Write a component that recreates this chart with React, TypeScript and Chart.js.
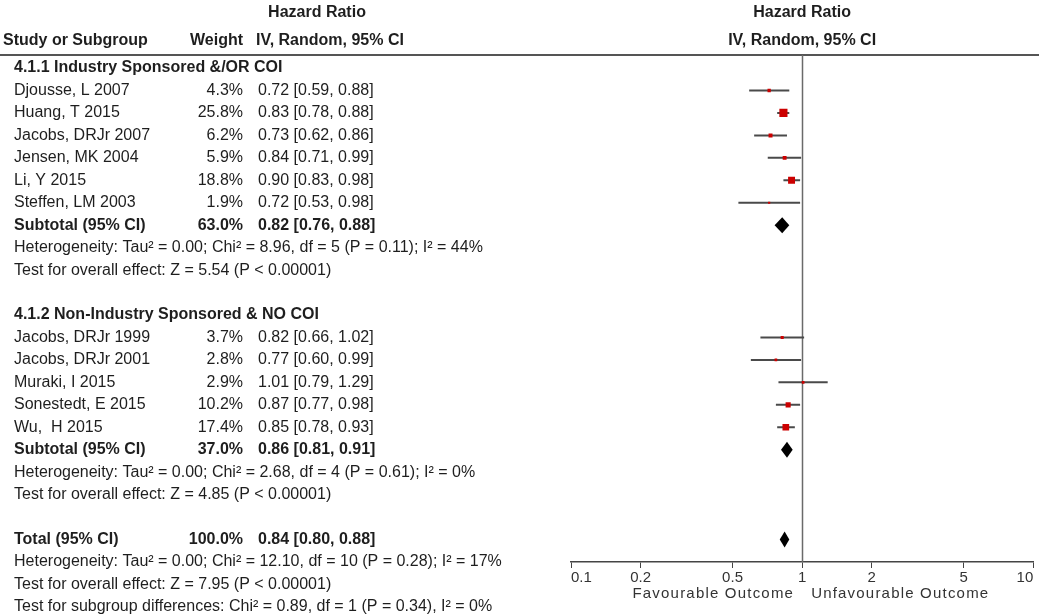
import React, { useEffect, useRef } from "react";
import { Chart, registerables } from "chart.js";

Chart.register(...registerables);

// ---------- data ----------
const GROUP1_TITLE = "4.1.1 Industry Sponsored &/OR COI";
const G1_STUDIES = ["Djousse, L 2007", "Huang, T 2015", "Jacobs, DRJr 2007", "Jensen, MK 2004", "Li, Y 2015", "Steffen, LM 2003"];
const G1_WEIGHT = [4.3, 25.8, 6.2, 5.9, 18.8, 1.9];
const G1_HR = [0.72, 0.83, 0.73, 0.84, 0.9, 0.72];
const G1_LO = [0.59, 0.78, 0.62, 0.71, 0.83, 0.53];
const G1_HI = [0.88, 0.88, 0.86, 0.99, 0.98, 0.98];
const G1_SUB = { weight: 63.0, hr: 0.82, lo: 0.76, hi: 0.88 };
const G1_NOTES = [
  "Heterogeneity: Tau\u00b2 = 0.00; Chi\u00b2 = 8.96, df = 5 (P = 0.11); I\u00b2 = 44%",
  "Test for overall effect: Z = 5.54 (P < 0.00001)",
];

const GROUP2_TITLE = "4.1.2 Non-Industry Sponsored & NO COI";
const G2_STUDIES = ["Jacobs, DRJr 1999", "Jacobs, DRJr 2001", "Muraki, I 2015", "Sonestedt, E 2015", "Wu,  H 2015"];
const G2_WEIGHT = [3.7, 2.8, 2.9, 10.2, 17.4];
const G2_HR = [0.82, 0.77, 1.01, 0.87, 0.85];
const G2_LO = [0.66, 0.6, 0.79, 0.77, 0.78];
const G2_HI = [1.02, 0.99, 1.29, 0.98, 0.93];
const G2_SUB = { weight: 37.0, hr: 0.86, lo: 0.81, hi: 0.91 };
const G2_NOTES = [
  "Heterogeneity: Tau\u00b2 = 0.00; Chi\u00b2 = 2.68, df = 4 (P = 0.61); I\u00b2 = 0%",
  "Test for overall effect: Z = 4.85 (P < 0.00001)",
];

const TOTAL = { weight: 100.0, hr: 0.84, lo: 0.8, hi: 0.88 };
const TOTAL_NOTES = [
  "Heterogeneity: Tau\u00b2 = 0.00; Chi\u00b2 = 12.10, df = 10 (P = 0.28); I\u00b2 = 17%",
  "Test for overall effect: Z = 7.95 (P < 0.00001)",
  "Test for subgroup differences: Chi\u00b2 = 0.89, df = 1 (P = 0.34), I\u00b2 = 0%",
];

const X_TICKS = [0.1, 0.2, 0.5, 1, 2, 5, 10];
const X_TICK_LABELS = ["0.1", "0.2", "0.5", "1", "2", "5", "10"];
const AXIS_LEFT_LABEL = "Favourable Outcome";
const AXIS_RIGHT_LABEL = "Unfavourable Outcome";

// ---------- row layout ----------
type Row =
  | { kind: "group"; text: string }
  | { kind: "study"; name: string; w: number; hr: number; lo: number; hi: number }
  | { kind: "sub"; name: string; w: number; hr: number; lo: number; hi: number }
  | { kind: "note"; text: string }
  | { kind: "blank" };

function buildRows(): Row[] {
  const rows: Row[] = [];
  rows.push({ kind: "group", text: GROUP1_TITLE });
  G1_STUDIES.forEach((n, i) => rows.push({ kind: "study", name: n, w: G1_WEIGHT[i], hr: G1_HR[i], lo: G1_LO[i], hi: G1_HI[i] }));
  rows.push({ kind: "sub", name: "Subtotal (95% CI)", w: G1_SUB.weight, hr: G1_SUB.hr, lo: G1_SUB.lo, hi: G1_SUB.hi });
  G1_NOTES.forEach((t) => rows.push({ kind: "note", text: t }));
  rows.push({ kind: "blank" });
  rows.push({ kind: "group", text: GROUP2_TITLE });
  G2_STUDIES.forEach((n, i) => rows.push({ kind: "study", name: n, w: G2_WEIGHT[i], hr: G2_HR[i], lo: G2_LO[i], hi: G2_HI[i] }));
  rows.push({ kind: "sub", name: "Subtotal (95% CI)", w: G2_SUB.weight, hr: G2_SUB.hr, lo: G2_SUB.lo, hi: G2_SUB.hi });
  G2_NOTES.forEach((t) => rows.push({ kind: "note", text: t }));
  rows.push({ kind: "blank" });
  rows.push({ kind: "sub", name: "Total (95% CI)", w: TOTAL.weight, hr: TOTAL.hr, lo: TOTAL.lo, hi: TOTAL.hi });
  TOTAL_NOTES.forEach((t) => rows.push({ kind: "note", text: t }));
  return rows;
}

const FONT = '"Liberation Sans", Arial, Helvetica, sans-serif';
const TEXT = "#1e1e1e";
const RED = "#cc0000";

const fmt = (v: number) => v.toFixed(2);

export default function App() {
  const ref = useRef<HTMLCanvasElement | null>(null);

  useEffect(() => {
    if (!ref.current) return;
    const rows = buildRows();

    const studyRows = rows
      .map((r, i) => ({ r, i }))
      .filter((o) => o.r.kind === "study") as { r: Extract<Row, { kind: "study" }>; i: number }[];
    const subRows = rows
      .map((r, i) => ({ r, i }))
      .filter((o) => o.r.kind === "sub") as { r: Extract<Row, { kind: "sub" }>; i: number }[];

    const ciDatasets = studyRows.map((o) => ({
      type: "scatter" as const,
      data: [
        { x: o.r.lo, y: o.i },
        { x: o.r.hi, y: o.i },
      ],
      showLine: true,
      borderColor: "#4a4a4a",
      borderWidth: 2,
      pointRadius: 0,
      order: 2,
    }));

    const squareDataset = {
      type: "scatter" as const,
      data: studyRows.map((o) => ({ x: o.r.hr, y: o.i })),
      pointStyle: "rect",
      pointRadius: studyRows.map((o) => Math.max(2.2, 1.6 * Math.sqrt(o.r.w)) / Math.SQRT2),
      backgroundColor: RED,
      borderWidth: 0,
      order: 1,
    };

    const forestPlugin = {
      id: "forest",
      beforeDraw(chart: any) {
        const ctx = chart.ctx;
        ctx.save();
        ctx.fillStyle = "#ffffff";
        ctx.fillRect(0, 0, chart.width, chart.height);
        ctx.restore();
      },
      beforeDatasetsDraw(chart: any) {
        const ctx = chart.ctx;
        const xs = chart.scales.x;
        const area = chart.chartArea;
        ctx.save();
        // header rule
        ctx.strokeStyle = "#555";
        ctx.lineWidth = 2;
        ctx.beginPath();
        ctx.moveTo(0, area.top);
        ctx.lineTo(chart.width, area.top);
        ctx.stroke();
        // line of no effect
        const x1 = Math.round(xs.getPixelForValue(1)) + 0.5;
        ctx.strokeStyle = "#6a6a6a";
        ctx.lineWidth = 1.5;
        ctx.beginPath();
        ctx.moveTo(x1, area.top);
        ctx.lineTo(x1, area.bottom);
        ctx.stroke();
        ctx.restore();
      },
      afterDatasetsDraw(chart: any) {
        const ctx = chart.ctx;
        const xs = chart.scales.x;
        const ys = chart.scales.y;
        ctx.save();
        // diamonds
        ctx.fillStyle = "#000";
        subRows.forEach((o) => {
          const y = ys.getPixelForValue(o.i);
          const xl = xs.getPixelForValue(o.r.lo);
          const xr = xs.getPixelForValue(o.r.hi);
          const xc = xs.getPixelForValue(o.r.hr);
          ctx.beginPath();
          ctx.moveTo(xl, y);
          ctx.lineTo(xc, y - 8);
          ctx.lineTo(xr, y);
          ctx.lineTo(xc, y + 8);
          ctx.closePath();
          ctx.fill();
        });

        // text table
        ctx.fillStyle = TEXT;
        ctx.textBaseline = "middle";
        const reg = `16px ${FONT}`;
        const bold = `bold 16px ${FONT}`;
        const put = (t: string, x: number, y: number, align: CanvasTextAlign, f: string, sp = 0) => {
          ctx.font = f;
          ctx.textAlign = align;
          (ctx as any).letterSpacing = sp + "px";
          ctx.fillText(t, x, y);
          (ctx as any).letterSpacing = "0px";
        };
        // headers
        put("Hazard Ratio", 317, 13, "center", bold);
        put("Study or Subgroup", 3, 41, "left", bold);
        put("Weight", 243, 41, "right", bold);
        put("IV, Random, 95% CI", 256, 41, "left", bold);
        const xc1 = xs.getPixelForValue(1);
        put("Hazard Ratio", xc1, 13, "center", bold);
        put("IV, Random, 95% CI", xc1, 41, "center", bold);

        rows.forEach((r, i) => {
          const y = ys.getPixelForValue(i);
          if (r.kind === "group") put(r.text, 14, y, "left", bold);
          else if (r.kind === "note") put(r.text, 14, y, "left", reg);
          else if (r.kind === "study" || r.kind === "sub") {
            const f = r.kind === "sub" ? bold : reg;
            put(r.name, 14, y, "left", f);
            put(r.w.toFixed(1) + "%", 243, y, "right", f);
            put(`${fmt(r.hr)} [${fmt(r.lo)}, ${fmt(r.hi)}]`, 258, y, "left", f);
          }
        });

        // axis captions
        const yb = chart.scales.x.bottom - 21;
        ctx.fillStyle = "#333";
        put(AXIS_LEFT_LABEL, xc1 - 8, yb, "right", `15px ${FONT}`, 1.2);
        put(AXIS_RIGHT_LABEL, xc1 + 9, yb, "left", `15px ${FONT}`, 1.2);
        ctx.restore();
      },
    };

    const chart = new Chart(ref.current, {
      type: "scatter",
      data: { datasets: [squareDataset as any, ...(ciDatasets as any)] },
      options: {
        responsive: false,
        animation: false,
        events: [],
        layout: { padding: { left: 571, right: 4, top: 55, bottom: 0 } },
        plugins: { legend: { display: false }, tooltip: { enabled: false }, title: { display: false } },
        scales: {
          x: {
            type: "logarithmic",
            min: 0.1,
            max: 10,
            afterBuildTicks: (s: any) => {
              s.ticks = X_TICKS.map((v) => ({ value: v }));
            },
            afterFit: (s: any) => {
              s.height = 53;
            },
            ticks: {
              autoSkip: false,
              maxRotation: 0,
              align: "inner",
              padding: 1,
              color: "#333",
              font: { family: FONT, size: 15 },
              callback: (v: any) => {
                const idx = X_TICKS.indexOf(Number(v));
                return idx >= 0 ? X_TICK_LABELS[idx] : "";
              },
            },
            grid: { drawOnChartArea: false, drawTicks: true, tickLength: 6, color: "#444", tickColor: "#444", lineWidth: 1 },
            border: { display: true, color: "#444", width: 1.5 },
          },
          y: {
            type: "linear",
            reverse: true,
            min: -0.58,
            max: 22.0,
            display: false,
          },
        },
      } as any,
      plugins: [forestPlugin],
    });
    return () => chart.destroy();
  }, []);

  return (
    <div style={{ position: "fixed", left: 0, top: 0, width: 1039, height: 615, background: "#fff" }}>
      <canvas ref={ref} width={1039} height={615} style={{ display: "block" }} />
    </div>
  );
}
